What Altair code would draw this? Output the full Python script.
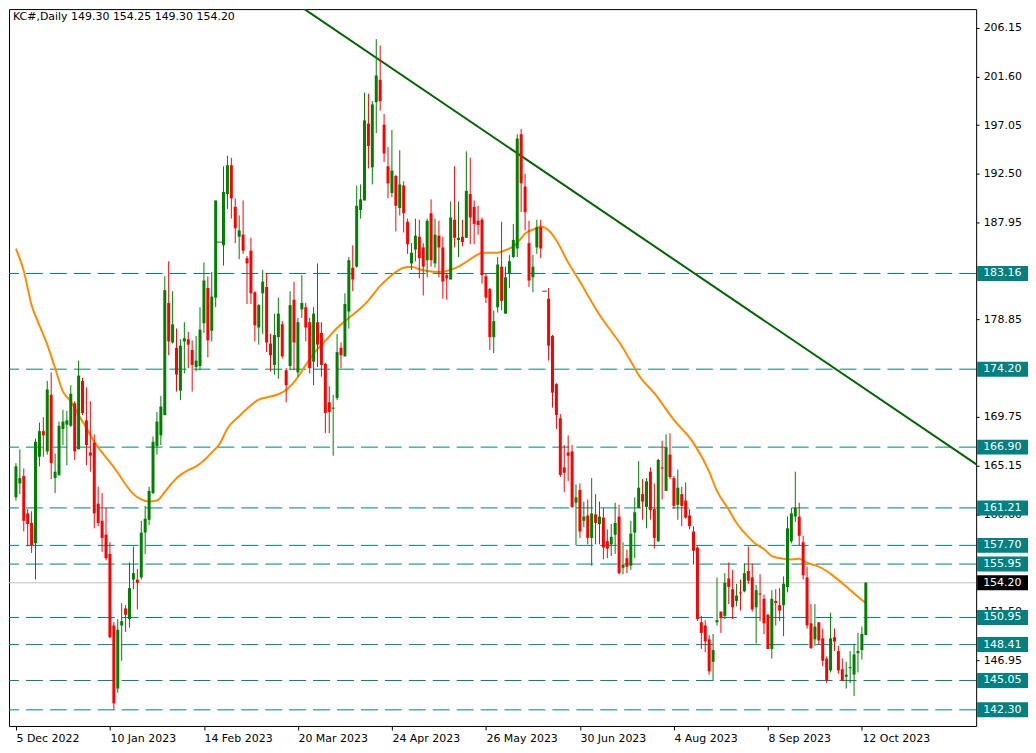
import altair as alt
import pandas as pd

# ---------------- data ----------------
opens = [162.2,163.5,164.2,160.7,159.8,157.9,166.0,168.4,166.5,171.8,
164.0,164.3,168.6,169.0,168.9,171.0,166.7,173.1,169.4,166.4,
167.3,161.6,160.0,158.7,156.9,150.2,144.3,150.2,151.8,150.8,
154.5,154.5,154.7,158.9,160.1,162.6,167.0,168.0,169.9,180.4,
176.7,176.2,172.2,176.8,177.0,176.0,174.4,174.5,178.5,181.8,
177.8,180.9,186.1,185.8,190.6,193.3,189.4,186.6,186.8,184.6,
185.3,181.4,178.1,181.3,181.9,176.6,174.6,177.2,178.4,174.1,
174.5,180.7,173.9,179.8,180.0,178.6,174.9,178.6,177.6,174.7,
171.1,170.5,171.5,176.2,175.4,179.6,183.7,183.8,189.1,190.0,
197.2,193.1,199.2,201.3,197.1,193.2,190.7,192.3,189.3,191.4,
188.0,184.1,185.4,186.6,185.6,184.4,188.8,184.1,186.7,185.6,
183.0,182.6,188.2,186.3,186.6,186.5,190.6,189.4,188.1,188.2,
182.9,181.7,177.2,180.0,183.8,179.4,183.2,184.7,185.5,196.2,
191.3,186.0,182.8,185.6,187.5,181.5,180.8,177.3,172.8,169.6,
165.0,166.4,166.5,161.7,162.9,160.0,160.5,158.4,160.6,159.7,
160.3,158.1,157.8,158.7,160.4,155.6,156.5,155.8,158.9,161.2,
162.5,161.3,164.6,161.1,158.1,165.0,162.8,166.2,164.0,161.5,
162.5,161.9,160.5,159.0,157.5,150.5,150.2,148.9,146.8,150.5,
151.5,151.1,154.6,153.6,152.5,153.3,153.4,155.3,154.7,151.9,
153.2,152.7,151.2,148.0,152.5,152.1,152.1,153.8,158.1,160.4,
160.4,158.0,154.7,150.4,148.9,150.5,149.0,147.1,146.0,149.1,
147.8,146.1,145.4,146.2,145.6,147.6,147.9,149.30]

highs = [165.4,166.7,164.9,161.1,160.9,167.7,169.2,169.7,173.1,173.9,
166.3,169.3,170.4,170.3,172.7,171.2,175.0,173.4,172.5,171.2,
168.1,163.2,162.6,161.2,158.0,150.5,150.8,152.3,152.1,156.1,
157.6,155.5,160.0,161.4,163.2,167.9,170.2,171.7,182.9,184.3,
181.5,178.0,177.0,178.6,177.7,176.9,177.3,180.0,184.2,182.9,
183.3,190.0,186.1,193.2,194.2,194.0,190.2,188.6,190.0,184.8,
186.5,181.5,180.3,183.5,183.2,177.5,179.4,180.9,178.7,174.3,
181.5,182.4,179.0,183.0,180.4,179.0,180.0,184.1,178.6,174.8,
172.6,171.8,177.5,176.7,181.3,184.7,185.8,191.4,191.5,200.1,
200.0,199.3,205.1,204.5,198.1,195.0,196.6,192.4,194.7,191.8,
188.3,186.0,188.3,188.2,186.0,188.3,190.1,188.3,188.1,186.6,
183.2,189.9,193.2,189.9,188.2,194.6,194.0,190.0,189.5,188.4,
183.2,181.8,179.7,184.7,188.0,183.8,184.9,187.8,196.2,196.7,
192.5,188.1,184.9,188.2,188.2,181.5,181.8,177.4,172.9,170.0,
167.1,168.0,167.1,163.4,163.5,161.8,162.0,164.0,162.5,161.8,
161.2,159.2,159.7,161.7,161.5,158.0,157.3,160.0,162.2,165.6,
163.9,164.0,165.0,163.5,165.8,167.5,168.1,168.2,164.2,164.8,
163.2,163.6,161.1,159.5,157.6,151.1,150.7,149.3,149.4,154.7,
151.5,155.1,156.1,155.4,154.1,154.5,156.0,157.6,156.0,154.0,
155.0,153.1,151.3,153.5,153.6,153.7,154.8,160.4,161.2,164.6,
161.7,158.6,155.7,152.2,152.2,150.5,149.9,147.3,151.4,149.9,
148.3,147.1,146.8,147.8,148.5,149.5,150.1,154.25]

lows = [161.9,162.5,159.0,157.6,157.0,154.5,165.1,166.0,166.2,163.9,
162.6,164.2,167.1,165.2,168.8,165.7,166.7,169.9,165.2,164.6,
159.3,159.5,157.1,156.3,149.0,142.3,143.9,146.9,149.6,150.0,
153.6,151.7,154.5,156.9,159.6,162.5,166.2,167.1,169.9,175.5,
176.6,172.1,171.3,173.8,174.3,172.1,174.0,174.1,177.6,175.3,
176.8,180.0,186.1,183.9,189.2,188.3,186.0,184.5,185.0,180.3,
180.3,176.8,176.5,177.5,175.8,174.0,173.7,173.3,175.2,171.1,
174.1,174.1,173.5,179.0,176.8,173.8,172.7,174.4,173.5,168.2,
168.2,166.1,171.3,174.3,175.4,178.0,181.5,183.7,188.3,190.0,
193.0,191.5,196.3,198.4,193.6,190.2,190.3,187.1,188.6,187.0,
185.0,183.5,184.3,182.7,181.1,182.8,183.8,183.7,182.8,180.8,
180.7,182.6,185.6,184.7,185.7,186.5,185.9,185.9,186.8,182.2,
180.4,176.0,175.7,179.5,179.7,179.4,181.8,184.6,184.7,188.9,
187.2,181.9,181.4,185.0,184.6,181.5,175.0,170.6,168.6,164.1,
162.7,163.7,161.2,157.7,158.4,159.4,157.8,155.8,157.8,157.8,
156.4,156.5,156.7,156.9,155.0,155.0,155.1,155.4,156.5,161.2,
160.1,159.3,160.1,157.4,158.0,162.0,162.8,163.9,161.1,160.1,
159.5,160.2,159.2,155.9,150.6,148.0,147.7,145.6,145.0,150.2,
149.5,150.8,152.2,150.8,152.0,151.6,153.3,154.1,151.5,148.5,
150.6,149.4,148.0,147.1,150.2,150.6,149.2,153.3,157.9,159.9,
157.7,154.5,149.9,148.0,148.3,148.4,146.4,144.8,145.8,147.8,
145.7,145.0,144.3,144.8,143.6,145.8,147.0,149.30]

closes = [165.1,164.0,160.0,159.7,157.7,167.4,168.4,168.0,172.3,165.4,
164.6,168.9,169.3,169.4,171.9,166.5,173.6,170.1,167.1,166.1,
160.7,159.8,158.4,156.5,149.1,142.9,149.8,150.6,151.2,153.7,
155.1,154.2,158.9,160.2,162.8,167.4,169.3,170.7,181.6,176.8,
178.4,173.7,176.4,177.1,176.5,174.6,175.0,177.9,182.5,176.9,
181.0,190.0,186.1,190.8,193.3,190.2,187.4,187.2,185.3,184.1,
181.3,178.3,180.2,182.4,176.7,175.5,177.4,179.4,175.4,172.7,
180.2,176.7,178.6,180.4,178.1,174.3,179.4,176.5,174.6,170.1,
170.2,170.6,175.8,175.5,180.3,184.4,182.6,189.5,190.1,197.5,
195.1,199.0,201.7,199.3,194.4,191.6,192.8,189.5,191.5,188.8,
185.9,185.1,186.7,184.6,183.8,188.1,184.4,186.8,185.6,182.4,
182.7,188.4,186.5,186.5,186.1,190.9,188.4,187.8,187.7,183.0,
180.9,177.2,178.7,184.0,180.6,182.8,184.3,186.3,195.8,191.6,
188.9,182.5,183.8,187.5,185.5,181.5,176.4,172.0,169.9,164.3,
164.5,166.1,161.3,162.2,159.0,160.4,158.4,160.7,159.8,160.4,
157.5,157.4,158.5,159.8,155.1,155.9,155.7,158.8,160.8,163.1,
161.8,163.7,161.0,158.4,165.7,164.9,166.9,164.1,161.4,163.1,
161.4,160.3,159.5,157.2,150.8,149.5,148.7,145.9,147.9,150.7,
150.9,154.2,153.8,151.9,153.0,153.2,155.1,154.4,151.7,153.5,
153.1,150.4,148.0,152.7,152.3,151.6,154.1,159.3,160.7,161.2,
158.6,154.9,150.2,148.1,150.1,148.8,146.9,145.1,149.0,148.7,
146.0,145.0,145.6,146.3,147.5,147.8,149.4,154.20]

date_idx = [0, 24, 48, 72, 96, 120, 144, 168, 192, 216]
date_labels = ["5 Dec 2022", "10 Jan 2023", "14 Feb 2023", "20 Mar 2023", "24 Apr 2023",
               "26 May 2023", "30 Jun 2023", "4 Aug 2023", "8 Sep 2023", "12 Oct 2023"]

ma_idx = [0, 2, 4, 6, 8, 10, 12, 14, 16, 18, 20, 22, 24, 26, 28, 30, 32, 34, 36, 38,
          40, 42, 44, 46, 48, 50, 52, 54, 57, 59, 62, 64, 67, 69, 72, 74, 77, 79, 82, 85,
          88, 90, 93, 95, 97, 99, 101, 103, 105, 108, 111, 113, 115, 118, 119, 123, 125, 127, 129, 130,
          133, 134, 136, 138, 141, 144, 147, 149, 152, 154, 157, 159, 163, 168, 173, 177, 179, 182, 184, 187,
          189, 191, 193, 196, 198, 200, 202, 204, 207, 209, 212, 214, 217]
ma_val = [185.5, 183.4, 180.2, 178.3, 176.5, 174.3, 172.1, 171.2, 169.9, 168.7, 167.4, 166.4, 165.5, 164.5, 163.4, 162.5, 162.0, 161.8, 161.9, 162.7,
          163.6, 164.3, 164.75, 165.1, 165.65, 166.4, 167.2, 168.65, 169.8, 170.5, 171.35, 171.55, 171.85, 172.25, 173.45, 174.6, 176.1, 176.85, 178.05, 179.0,
          179.9, 180.65, 182.0, 182.7, 183.3, 183.7, 183.8, 183.55, 183.4, 183.3, 183.5, 183.8, 184.25, 184.95, 185.1, 185.1, 185.35, 185.7, 186.45, 186.9,
          187.4, 187.55, 187.2, 186.25, 184.2, 182.4, 180.5, 179.3, 177.75, 176.75, 174.95, 173.65, 171.95, 169.45, 167.3, 164.6, 162.8, 161.05, 159.8, 158.5,
          157.8, 157.35, 156.7, 156.45, 156.38, 156.45, 156.05, 155.85, 155.3, 154.75, 153.85, 153.2, 152.3]

trend_idx = [71.75, 250.0]
trend_val = [208.39, 164.10]

levels = [183.16, 174.20, 166.90, 161.21, 157.70, 155.95, 150.95, 148.41, 145.05, 142.30]
last_price = 154.20
axis_vals = [206.15, 201.60, 197.05, 192.50, 187.95, 178.85, 169.75,
             165.15, 160.60, 151.50, 146.95]
header = "KC#,Daily  149.30 154.25 149.30 154.20"

# ---------------- styling ----------------
GREEN = "#008000"
RED = "#FF0000"
TEAL = "#008080"
FONT = "DejaVu Sans"
W, H = 970, 719

n = len(opens)
df = pd.DataFrame({"i": list(range(n)), "o": opens, "h": highs, "l": lows, "c": closes})
df["col"] = ["black" if c == o else (GREEN if c > o else RED) for o, c in zip(opens, closes)]
body = df[df.o != df.c]
doji = df[df.o == df.c]

ma_df = pd.DataFrame({"i": ma_idx, "p": ma_val})
tr_df = pd.DataFrame({"i": trend_idx, "p": trend_val})
lv_df = pd.DataFrame({"p": levels, "lab": [f"{v:.2f}" for v in levels]})
lp_df = pd.DataFrame({"p": [last_price], "lab": [f"{last_price:.2f}"]})
hd_df = pd.DataFrame({"t": [header]})

xs = alt.Scale(domain=[-0.5, 243.9], nice=False, zero=False)
ys = alt.Scale(domain=[140.79, 207.92], nice=False, zero=False)

lab_js = "[" + ",".join(f"'{s}'" for s in date_labels) + "]"
x_axis = alt.Axis(values=date_idx, labelExpr=f"{lab_js}[round(datum.value/24)]",
                  title=None, grid=False, domain=False, tickSize=4, tickColor="black",
                  labelAlign="left", labelPadding=3, labelFont=FONT, labelFontSize=11,
                  labelColor="black", labelFlush=False, labelOverlap=False)
y_axis = alt.Axis(orient="right", values=axis_vals, format=".2f", title=None, grid=False,
                  domain=False, tickSize=3, tickColor="black", labelPadding=4,
                  labelAlign="left", labelFont=FONT, labelFontSize=11, labelColor="black",
                  labelOverlap=False, labelFlush=False)

X = lambda f: alt.X(f, type="quantitative", scale=xs, axis=x_axis)
Y = lambda f: alt.Y(f, type="quantitative", scale=ys, axis=y_axis)

lv_rules = alt.Chart(lv_df).mark_rule(color=TEAL, strokeWidth=1, strokeDash=[17, 7]).encode(y=Y("p"))
lp_rule = alt.Chart(lp_df).mark_rule(color="#C0C0C0", strokeWidth=1).encode(y=Y("p"))

trend = alt.Chart(tr_df).mark_line(color="#006400", strokeWidth=2, clip=True).encode(x=X("i"), y=Y("p"))
ma = alt.Chart(ma_df).mark_line(color="#FF8C00", strokeWidth=2, interpolate="monotone", clip=True).encode(
    x=X("i"), y=Y("p"))

wicks = alt.Chart(df).mark_rule(strokeWidth=1).encode(
    x=X("i"), y=Y("l"), y2="h", color=alt.Color("col:N", scale=None))
bodies = alt.Chart(body).mark_bar(width=3).encode(
    x=X("i"), y=Y("o"), y2="c", color=alt.Color("col:N", scale=None))
dojis = alt.Chart(doji).mark_tick(orient="horizontal", size=5, thickness=1, color="black").encode(
    x=X("i"), y=Y("c"))

boxes = alt.Chart(lv_df).mark_rect(color=TEAL, height=15).encode(
    x=alt.value(W + 1), x2=alt.value(W + 52), y=Y("p"))
box_txt = alt.Chart(lv_df).mark_text(align="left", baseline="middle", color="white",
                                      font=FONT, fontSize=11).encode(
    x=alt.value(W + 7), y=Y("p"), text="lab:N")
lp_box = alt.Chart(lp_df).mark_rect(color="black", height=15).encode(
    x=alt.value(W + 1), x2=alt.value(W + 52), y=Y("p"))
lp_txt = alt.Chart(lp_df).mark_text(align="left", baseline="middle", color="white",
                                     font=FONT, fontSize=11).encode(
    x=alt.value(W + 7), y=Y("p"), text="lab:N")

head = alt.Chart(hd_df).mark_text(align="left", baseline="middle", color="black",
                                  font=FONT, fontSize=11).encode(
    x=alt.value(4), y=alt.value(8), text="t:N")

chart = alt.layer(lv_rules, lp_rule, trend, ma, wicks, bodies, dojis,
                  boxes, box_txt, lp_box, lp_txt, head).properties(
    width=W, height=H, padding=0, background="white"
).configure_view(stroke="black", strokeWidth=1)

chart.save("out.html", embed_options={"renderer": "svg", "actions": False})
